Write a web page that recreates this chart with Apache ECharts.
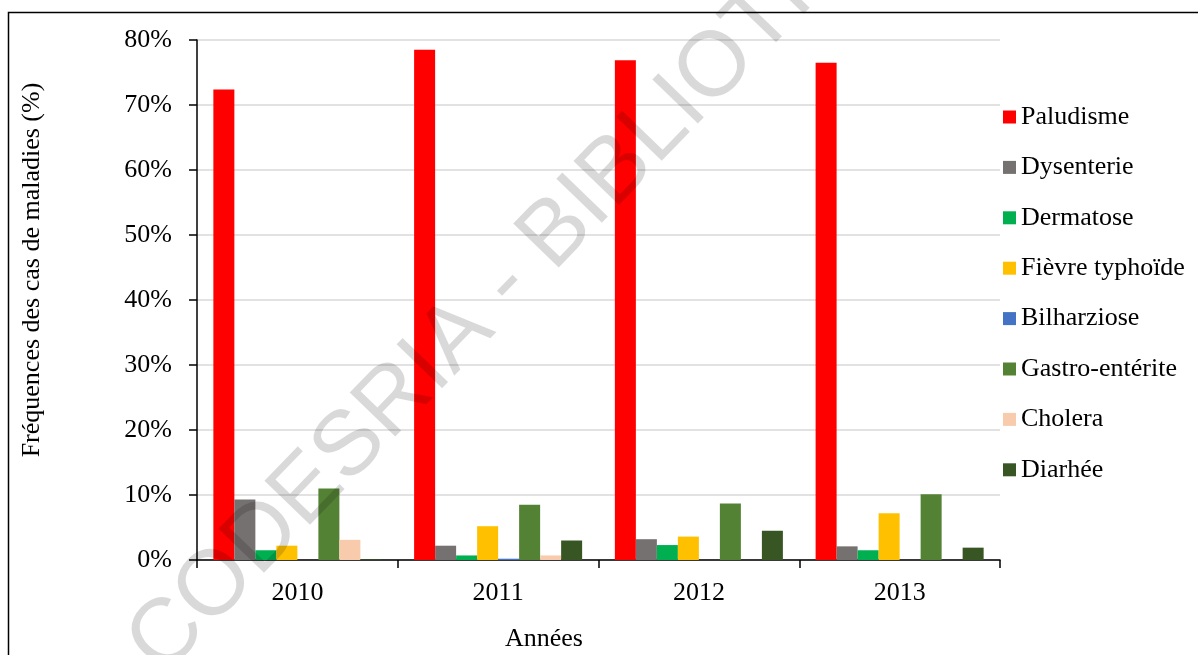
<!DOCTYPE html>
<html>
<head>
<meta charset="utf-8">
<script src="https://cdn.jsdelivr.net/npm/echarts@6/dist/echarts.min.js"></script>
<style>
  html, body { margin: 0; padding: 0; background: #fff; }
  #chart { width: 1198px; height: 655px; }
</style>
</head>
<body>
<div id="chart"></div>
<script>
// Years on the category axis
const categories = ['2010', '2011', '2012', '2013'];

// Disease frequencies per year (%)
const paludisme   = [72.4, 78.5, 76.9, 76.5];
const dysenterie  = [9.3, 2.2, 3.2, 2.1];
const dermatose   = [1.5, 0.7, 2.3, 1.5];
const fievre      = [2.2, 5.2, 3.6, 7.2];
const bilharziose = [0, 0.2, 0, 0];
const gastro      = [11.0, 8.5, 8.7, 10.1];
const cholera     = [3.1, 0.7, 0, 0];
const diarhee     = [0.1, 3.0, 4.5, 1.9];

// Series names as shown in the legend
const seriesNames = ['Paludisme', 'Dysenterie', 'Dermatose', 'Fièvre typhoïde',
                     'Bilharziose', 'Gastro-entérite', 'Cholera', 'Diarhée'];
const seriesData = [paludisme, dysenterie, dermatose, fievre,
                    bilharziose, gastro, cholera, diarhee];
const colors = ['#FF0000', '#767171', '#00B050', '#FFC000',
                '#4472C4', '#548235', '#F8CBAD', '#375623'];

// Value axis range (%)
const yMin = 0, yMax = 80, yStep = 10;

const serif = '"Liberation Serif", "Times New Roman", serif';

const chart = echarts.init(document.getElementById('chart'), null, { renderer: 'canvas' });

chart.setOption({
  backgroundColor: '#ffffff',
  animation: false,
  color: colors,
  grid: { left: 197, right: 198, top: 40, bottom: 95, containLabel: false },
  legend: {
    orient: 'vertical',
    left: 1003,
    top: 102,
    padding: 0,
    icon: 'rect',
    itemWidth: 13,
    itemHeight: 13,
    itemGap: 20.4,
    textStyle: { fontFamily: serif, fontSize: 26, color: '#000', lineHeight: 30 },
    data: seriesNames
  },
  xAxis: {
    type: 'category',
    data: categories,
    axisLine: { lineStyle: { color: '#000', width: 1.5 } },
    axisTick: { show: true, length: 8, lineStyle: { color: '#000', width: 1.5 } },
    axisLabel: { fontFamily: serif, fontSize: 26, color: '#000', margin: 20 },
    splitLine: { show: false }
  },
  yAxis: {
    type: 'value',
    min: yMin,
    max: yMax,
    interval: yStep,
    axisLine: { show: true, lineStyle: { color: '#000', width: 1.5 } },
    axisTick: { show: true, length: 8, lineStyle: { color: '#000', width: 1.5 } },
    axisLabel: { fontFamily: serif, fontSize: 26, color: '#000', margin: 25, formatter: '{value}%' },
    splitLine: { show: true, lineStyle: { color: '#D9D9D9', width: 1.5 } }
  },
  series: seriesNames.map((name, i) => ({
    name: name,
    type: 'bar',
    data: seriesData[i],
    barGap: '0%',
    barCategoryGap: '16.3%',
    itemStyle: { color: colors[i] }
  })),
  graphic: [
    // page frame (top and left edges visible)
    {
      type: 'rect',
      shape: { x: 8.5, y: 12.5, width: 1400, height: 1000 },
      style: { fill: 'none', stroke: '#000', lineWidth: 1.5 },
      z: 0, silent: true
    },
    // vertical axis title
    {
      type: 'text',
      x: 32, y: 270,
      rotation: Math.PI / 2,
      style: {
        text: 'Fréquences des cas de maladies (%)',
        font: '26px ' + serif,
        fill: '#000',
        textAlign: 'center',
        textVerticalAlign: 'middle'
      },
      silent: true
    },
    // horizontal axis title
    {
      type: 'text',
      x: 544, y: 639,
      style: {
        text: 'Années',
        font: '26px ' + serif,
        fill: '#000',
        textAlign: 'center',
        textVerticalAlign: 'middle'
      },
      silent: true
    },
    // diagonal watermark
    {
      type: 'text',
      x: 576, y: 213,
      rotation: 46 * Math.PI / 180,
      z: 100,
      style: {
        text: 'CODESRIA - BIBLIOTHEQUE',
        font: '92px "Liberation Sans", Arial, sans-serif',
        fill: 'rgba(0,0,0,0.15)',
        textAlign: 'center',
        textVerticalAlign: 'middle'
      },
      silent: true
    }
  ]
});
</script>
</body>
</html>
